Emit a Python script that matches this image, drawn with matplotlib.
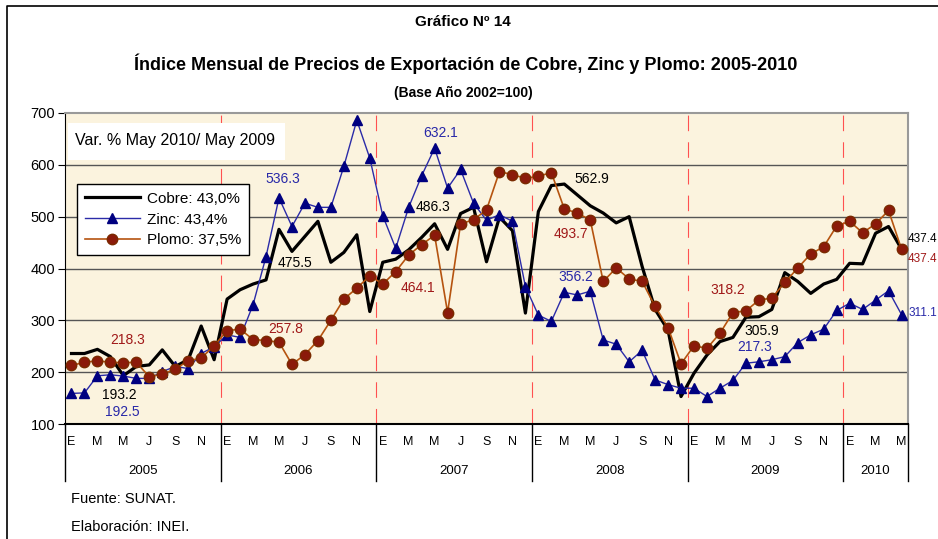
import matplotlib
matplotlib.use("Agg")
import matplotlib.pyplot as plt
from matplotlib.lines import Line2D
from matplotlib.patches import Rectangle
import numpy as np

# monthly index, base 2002 = 100, Jan 2005 .. May 2010
years = ["2005", "2006", "2007", "2008", "2009", "2010"]
months_per_year = [12, 12, 12, 12, 12, 5]
month_letters = ["E", "", "M", "", "M", "", "J", "", "S", "", "N", ""]

cobre = [236, 236, 244, 230, 193.2, 211, 214, 243, 211, 224, 289, 224,
         341, 359, 370, 378, 475.5, 433, 462, 491, 412, 431, 465, 317,
         412, 418, 436, 460, 486.3, 437, 506, 518, 413, 499, 473, 314,
         510, 560, 562.9, 542, 521, 507, 488, 500, 404, 321, 281, 153,
         198, 233, 259, 267, 305.9, 307, 321, 392, 375, 352, 370, 379,
         410, 409, 468, 481, 437.4]
zinc = [159, 160, 193, 195, 192.5, 188, 188, 201, 211, 207, 236, 249,
        272, 267, 330, 423, 536.3, 481, 526, 518, 518, 597, 686, 613,
        502, 439, 518, 579, 632.1, 555, 591, 526, 493, 504, 491, 365,
        310, 298, 354, 349, 356.2, 262, 254, 220, 242, 185, 176, 169,
        169, 153, 169, 184, 217.3, 220, 224, 230, 257, 272, 283, 319,
        333, 321, 339, 357, 311.1]
plomo = [213, 219, 222, 219, 218.3, 219, 191, 196, 206, 222, 227, 251,
         280, 283, 263, 261, 257.8, 215, 234, 261, 300, 341, 362, 386,
         370, 394, 426, 446, 464.1, 315, 486, 494, 513, 587, 581, 574,
         578, 585, 515, 507, 493.7, 375, 401, 380, 375, 327, 286, 216,
         251, 246, 275, 315, 318.2, 339, 343, 373, 401, 428, 442, 482,
         491, 469, 486, 512, 437.4]

legend_labels = ["Cobre: 43,0%", "Zinc: 43,4%", "Plomo: 37,5%"]

# data labels: (text, x month index, y value, colour, ha)
labels = [
    ("218.3", 4.3, 262, "#A01818", "center"),
    ("193.2", 3.7, 156, "black", "center"),
    ("192.5", 3.9, 123, "#2828A8", "center"),
    ("536.3", 16.3, 573, "#2828A8", "center"),
    ("475.5", 17.2, 411, "black", "center"),
    ("257.8", 16.5, 283, "#A01818", "center"),
    ("632.1", 28.5, 661, "#2828A8", "center"),
    ("486.3", 27.9, 519, "black", "center"),
    ("464.1", 26.7, 362, "#A01818", "center"),
    ("562.9", 40.1, 573, "black", "center"),
    ("493.7", 38.5, 467, "#A01818", "center"),
    ("356.2", 38.9, 384, "#2828A8", "center"),
    ("318.2", 50.6, 358, "#A01818", "center"),
    ("305.9", 53.2, 279, "black", "center"),
    ("217.3", 52.7, 249, "#2828A8", "center"),
]
# labels at the right edge of the chart
end_labels = [
    ("437.4", 457, "black"),
    ("437.4", 418, "#A01818"),
    ("311.1", 314, "#2828A8"),
]

plt.rcParams["font.family"] = ["Liberation Sans", "DejaVu Sans"]

fig = plt.figure(figsize=(9.38, 5.39), dpi=100)
ax = fig.add_axes([65 / 938, 1 - 424 / 539, 843 / 938, 311 / 539])
ax.set_facecolor("#FBF3DE")

x = np.arange(len(cobre))
ax.set_xlim(-0.5, len(cobre) - 0.5)
ax.set_ylim(100, 700)

for v in range(200, 700, 100):
    ax.axhline(v, color="#555555", lw=1.0, zorder=1)

bounds = np.cumsum(months_per_year) - 0.5
for b in bounds[:-1]:
    ax.axvline(b, color="#FF5050", lw=0.8, ls=(0, (14, 10)), zorder=1)

ax.plot(x, cobre, color="black", lw=2.3, zorder=3, label=legend_labels[0])
ax.plot(x, zinc, color="#2B2BA8", lw=1.0, marker="^", ms=7.5,
        mfc="#000080", mec="#000080", zorder=4, label=legend_labels[1])
ax.plot(x, plomo, color="#B5530F", lw=1.2, marker="o", ms=7.5,
        mfc="#8B1A0A", mec="#7A2A00", zorder=5, label=legend_labels[2])

for t, lx, ly, c, ha in labels:
    ax.text(lx, ly, t, color=c, fontsize=10, ha=ha, va="center",
            clip_on=False, zorder=6)

# end labels anchored at the right edge of the figure
edge_tr = matplotlib.transforms.blended_transform_factory(fig.transFigure, ax.transData)
for t, ly, c in end_labels:
    ax.text(937 / 938, ly, t, color=c, fontsize=8.5, ha="right", va="center",
            transform=edge_tr, clip_on=False, zorder=6)

# Var. % box
ax.add_patch(Rectangle((3 / 843, 264 / 311), 217 / 843, 37 / 311,
                       transform=ax.transAxes, facecolor="white",
                       edgecolor="none", zorder=6))
ax.text(10 / 843, 283 / 311, "Var. % May 2010/ May 2009", transform=ax.transAxes,
        fontsize=11.5, ha="left", va="center", zorder=7)

leg = ax.legend(loc="upper left", bbox_to_anchor=(12 / 843, 240 / 311),
                borderaxespad=0, handlelength=3.6, labelspacing=0.45,
                borderpad=0.5, handletextpad=0.5, fancybox=False,
                framealpha=1, edgecolor="black", fontsize=11)
leg.get_frame().set_linewidth(1.0)
leg.set_zorder(7)

# axes styling
for s in ["top", "right"]:
    ax.spines[s].set_color("#999999")
    ax.spines[s].set_linewidth(1.5)
ax.spines["left"].set_color("black")
ax.spines["bottom"].set_color("black")
ax.spines["bottom"].set_linewidth(1.5)
ax.set_yticks(range(100, 701, 100))
ax.tick_params(axis="y", length=5, pad=2, labelsize=10.5)
ax.set_xticks([])

# category axis: months and years
tr = ax.get_xaxis_transform()
edges = np.concatenate([[-0.5], bounds])
for b in edges:
    ax.plot([b, b], [0, -57 / 311], color="black", lw=1.0, transform=tr, clip_on=False)
start = 0
for yr, n in zip(years, months_per_year):
    for m in range(n):
        if month_letters[m]:
            ax.text(start + m, -18 / 311, month_letters[m], transform=tr,
                    ha="center", va="center", fontsize=9)
    ax.text(start + (n - 1) / 2, -47 / 311, yr, transform=tr,
            ha="center", va="center", fontsize=9.5)
    start += n

# titles
fig.text(0.494, 1 - 22 / 539, "Gráfico Nº 14", ha="center", va="center",
         fontsize=11, fontweight="bold")
fig.text(0.497, 1 - 64 / 539,
         "Índice Mensual de Precios de Exportación de Cobre, Zinc y Plomo: 2005-2010",
         ha="center", va="center", fontsize=13, fontweight="bold")
fig.text(0.494, 1 - 93 / 539, "(Base Año 2002=100)", ha="center", va="center",
         fontsize=10, fontweight="bold")

fig.text(71 / 938, 1 - 499 / 539, "Fuente: SUNAT.", fontsize=10.5, va="center")
fig.text(71 / 938, 1 - 527 / 539, "Elaboración: INEI.", fontsize=10.5, va="center")

# outer frame (left and top edges)
fig.add_artist(Line2D([7 / 938, 7 / 938, 1], [0, 1 - 6 / 539, 1 - 6 / 539],
                      transform=fig.transFigure, color="black", lw=1.2))

fig.savefig("out.png", dpi=100)
